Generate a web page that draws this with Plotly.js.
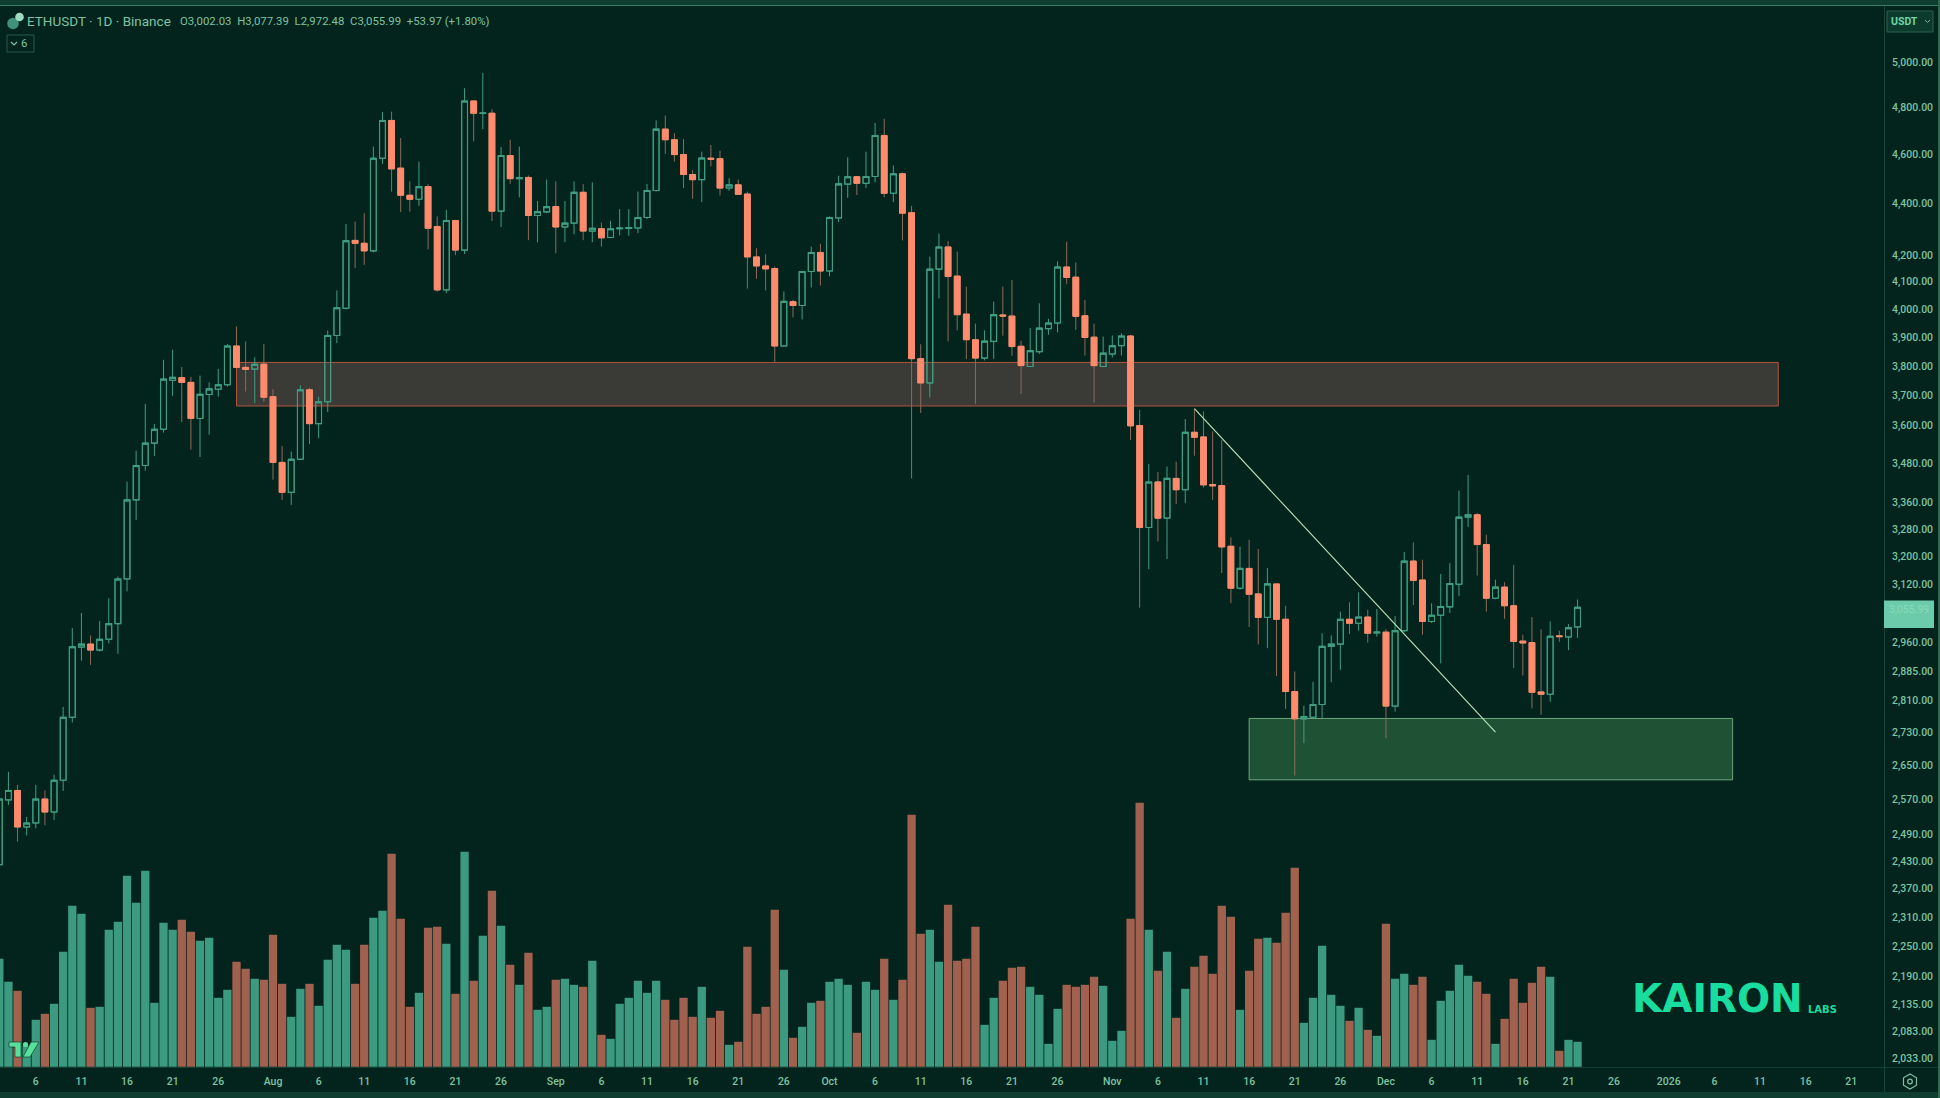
<!DOCTYPE html>
<html><head><meta charset="utf-8">
<script src="https://cdn.plot.ly/plotly-3.0.1.min.js"></script>
<style>html,body{margin:0;padding:0;background:#02241c;overflow:hidden}#c{width:1940px;height:1098px}</style>
</head><body><div id="c"></div>
<script>
// Daily candles, 2 Jul 2025 to 22 Dec 2025
const firstDay = '2025-07-02';
const open  = [2422,2568,2590,2506,2515,2570,2540,2614,2767,2948,2956,2940,2969,3011,3135,3367,3473,3544,3589,3751,3760,3744,3624,3703,3721,3736,3869,3795,3789,3806,3696,3483,3390,3493,3719,3607,3679,3906,4003,4256,4245,4216,4584,4743,4543,4433,4417,4468,4310,4070,4333,4219,4827,4773,4774,4370,4595,4500,4505,4353,4367,4388,4308,4323,4445,4292,4301,4267,4301,4302,4304,4345,4452,4706,4661,4599,4517,4496,4584,4582,4462,4475,4438,4193,4159,4149,3869,4027,4013,4138,4210,4140,4343,4478,4508,4481,4509,4679,4441,4520,4364,3825,3742,4147,4231,4121,3982,3891,3827,3885,3979,3975,3868,3798,3849,3930,3950,4155,4117,3976,3900,3798,3841,3870,3904,3601,3284,3422,3312,3433,3398,3579,3564,3414,3411,3229,3109,3165,3093,3028,3121,3023,2832,2763,2767,2799,2950,2956,3023,3012,3029,2986,2988,2795,2992,3186,3132,3017,3034,3057,3120,3315,3322,3234,3081,3112,3060,2964,2960,2831,2825,2978,2975,3002.03];
const high  = [2580,2634,2603,2529,2603,2590,2627,2793,2999,3040,2979,3018,3081,3142,3423,3520,3672,3606,3821,3856,3796,3762,3767,3744,3790,3876,3938,3885,3830,3876,3721,3535,3517,3734,3726,3696,3924,4068,4320,4329,4362,4632,4779,4781,4668,4489,4570,4478,4349,4375,4336,4883,4831,4951,4791,4630,4661,4632,4513,4410,4496,4489,4410,4489,4478,4485,4325,4332,4378,4378,4448,4478,4743,4764,4689,4664,4536,4611,4639,4615,4502,4496,4448,4226,4203,4157,4064,4033,4140,4232,4243,4349,4512,4588,4509,4611,4732,4750,4554,4525,4391,3875,4194,4283,4253,4213,4082,3948,3924,4027,4082,4107,3887,3932,4021,3965,4176,4251,4172,4033,3948,3902,3906,3914,3909,3652,3478,3453,3470,3485,3622,3656,3647,3582,3554,3255,3228,3248,3221,3166,3122,3060,2884,2796,2857,2985,2979,3044,3070,3097,3049,3051,2996,3032,3212,3240,3190,3067,3149,3180,3395,3444,3327,3263,3133,3126,3175,2981,3029,2996,3017,2992,3010,3077.39];
const low   = [2404,2556,2473,2487,2503,2510,2522,2589,2754,2912,2901,2936,2958,2930,3100,3307,3457,3503,3578,3699,3612,3523,3500,3571,3696,3730,3794,3713,3674,3679,3429,3367,3352,3491,3541,3560,3645,3879,3999,4151,4163,4210,4561,4448,4366,4368,4391,4222,4064,4058,4200,4204,4654,4706,4331,4308,4479,4425,4257,4249,4362,4207,4249,4280,4257,4249,4232,4265,4275,4274,4284,4339,4448,4602,4570,4462,4419,4406,4550,4432,4451,4435,4075,4111,4068,3812,3866,3970,3963,4079,4086,4120,4327,4423,4434,4462,4485,4425,4406,4256,3433,3642,3693,4039,3885,3924,3823,3672,3819,3824,3905,3835,3705,3796,3841,3908,3917,4091,3926,3836,3676,3796,3829,3836,3554,3055,3163,3243,3192,3354,3357,3504,3405,3367,3152,3067,3105,3002,2955,2945,2872,2788,2625,2703,2764,2763,2856,2888,2983,2992,2960,2976,2715,2781,2988,3062,2981,3013,2905,3040,3087,3286,3145,3044,3078,3024,2893,2873,2789,2773,2806,2962,2940,2972.48];
const close = [2570,2590,2506,2515,2570,2540,2614,2767,2949,2956,2940,2969,3011,3135,3367,3473,3544,3589,3755,3761,3744,3624,3704,3722,3736,3869,3795,3788,3806,3694,3483,3390,3493,3719,3607,3679,3906,4005,4255,4245,4216,4584,4743,4540,4433,4417,4468,4303,4070,4333,4219,4827,4774,4775,4370,4595,4500,4505,4353,4368,4388,4308,4323,4445,4292,4303,4266,4301,4304,4306,4345,4452,4706,4661,4599,4517,4496,4585,4580,4462,4475,4437,4193,4159,4148,3869,4028,4013,4138,4210,4140,4345,4479,4508,4481,4509,4679,4441,4520,4362,3825,3742,4147,4231,4120,3980,3891,3827,3886,3980,3975,3867,3801,3853,3932,3950,4155,4116,3974,3899,3801,3844,3870,3904,3600,3284,3422,3312,3433,3398,3579,3563,3413,3410,3227,3109,3165,3092,3028,3121,3023,2832,2763,2769,2799,2950,2956,3023,3012,3029,2985,2988,2795,2992,3186,3131,3017,3034,3058,3122,3315,3322,3234,3081,3112,3060,2963,2959,2830,2825,2977,2976,3000,3055.99];
// Traded volume per day, in the chart's arbitrary pane units
const volume = [108,85,76,21,47,53,63,115,161,153,59,60,137,145,191,164,196,64,144,137,147,135,126,129,69,77,105,98,88,87,132,83,50,78,83,61,107,122,117,83,122,149,156,213,148,60,74,139,140,123,73,215,86,131,176,141,102,82,114,57,60,87,88,82,80,106,32,28,63,69,86,74,86,67,47,69,50,80,49,56,22,25,120,53,60,157,97,29,40,64,66,85,88,82,34,85,77,108,67,87,252,133,137,105,162,106,108,140,42,69,86,99,100,80,72,23,58,82,80,82,90,81,26,36,148,264,137,96,115,49,78,100,111,93,161,150,57,96,128,129,124,154,199,44,69,121,72,61,46,59,37,31,143,88,93,82,90,27,66,76,102,91,85,73,23,48,88,64,84,100,90,16,27,25];
// Axis labels
const priceTicks = [5000,4800,4600,4400,4200,4100,4000,3900,3800,3700,3600,3480,3360,3280,3200,3120,2960,2885,2810,2730,2650,2570,2490,2430,2370,2310,2250,2190,2135,2083,2033];
const dateTicks = ['2025-07-06','2025-07-11','2025-07-16','2025-07-21','2025-07-26','2025-08-01','2025-08-06','2025-08-11','2025-08-16','2025-08-21','2025-08-26','2025-09-01','2025-09-06','2025-09-11','2025-09-16','2025-09-21','2025-09-26','2025-10-01','2025-10-06','2025-10-11','2025-10-16','2025-10-21','2025-10-26','2025-11-01','2025-11-06','2025-11-11','2025-11-16','2025-11-21','2025-11-26','2025-12-01','2025-12-06','2025-12-11','2025-12-16','2025-12-21','2025-12-26','2026-01-01','2026-01-06','2026-01-11','2026-01-16','2026-01-21'];
const dateLabels = ['6','11','16','21','26','Aug','6','11','16','21','26','Sep','6','11','16','21','26','Oct','6','11','16','21','26','Nov','6','11','16','21','26','Dec','6','11','16','21','26','2026','6','11','16','21'];
// Drawn zones and trend line
const resistanceDates = ['2025-07-28','2026-01-13'];
const resistancePrices = [3812,3665];
const supportDates = ['2025-11-16','2026-01-08'];
const supportPrices = [2764,2615];
const trendDates = ['2025-11-10','2025-12-13'];
const trendPrices = [3656,2730];
const lastPrice = 3055.99;

const W=1940,H=1098,PL=0,PR=1884,PT=6,PB=1068;
const BG='#02241c',UP='#3f9e82',DOWN='#ff8b6d',WICK='#8f6b5b',TXT='#7fc2a2',BAR='#0f3d30',EDGE='#2a6350';
const dates = open.map((_,i)=>{const d=new Date(Date.UTC(2025,6,2)+i*864e5);return d.toISOString().slice(0,10)});
const px=x=>(x-PL)/(PR-PL), py=y=>(PB-y)/(PB-PT);
const rectPx=(x0,y0,x1,y1,fill,line,lw)=>({type:'rect',xref:'paper',yref:'paper',x0:px(x0),x1:px(x1),y0:py(y0),y1:py(y1),fillcolor:fill,line:{color:line||fill,width:lw===undefined?0:lw},layer:'above'});
const pathPx=(pts,fill,line,lw,closed=true)=>({type:'path',xref:'paper',yref:'paper',path:pts.map((p,i)=>(i?'L':'M')+px(p[0])+','+py(p[1])).join(' ')+(closed?' Z':''),fillcolor:fill||'rgba(0,0,0,0)',line:{color:line||'rgba(0,0,0,0)',width:lw||0},layer:'above'});
const circlePx=(cx,cy,r,fill,line,lw)=>({type:'circle',xref:'paper',yref:'paper',x0:px(cx-r),x1:px(cx+r),y0:py(cy+r),y1:py(cy-r),fillcolor:fill||'rgba(0,0,0,0)',line:{color:line||'rgba(0,0,0,0)',width:lw||0},layer:'above'});
const textPx=(x,y,t,size,color,family,anchor)=>({xref:'paper',yref:'paper',x:px(x),y:py(y),text:t,showarrow:false,xanchor:anchor||'left',yanchor:'middle',font:{size,color,family:family||'Roboto, sans-serif'},borderpad:0,borderwidth:0});

const traces=[
 {type:'bar',x:dates,y:volume,yaxis:'y',xaxis:'x',
  marker:{color:close.map((c,i)=>c>=open[i]?'#3b9a7f':'#a2614f'),line:{width:0}},hoverinfo:'skip'},
 {type:'candlestick',x:dates,open,high,low,close,yaxis:'y2',xaxis:'x',whiskerwidth:0,
  increasing:{line:{color:UP,width:1},fillcolor:'rgba(0,0,0,0)'},
  decreasing:{line:{color:WICK,width:1},fillcolor:DOWN},hoverinfo:'skip'},
 {type:'candlestick',x:dates,open,close,
  high:open.map((o,i)=>Math.max(o,close[i])),low:open.map((o,i)=>Math.min(o,close[i])),
  yaxis:'y2',xaxis:'x',whiskerwidth:0,
  increasing:{line:{color:UP,width:1.1},fillcolor:'rgba(0,0,0,0)'},
  decreasing:{line:{color:DOWN,width:1},fillcolor:DOWN},hoverinfo:'skip'},
 {type:'scatter',mode:'lines',x:trendDates,y:trendPrices,yaxis:'y2',xaxis:'x',
  line:{color:'#bfe6bd',width:1.1},hoverinfo:'skip'}
];

const shapes=[
 {type:'rect',xref:'x',yref:'y2',x0:resistanceDates[0],x1:resistanceDates[1],y0:resistancePrices[0],y1:resistancePrices[1],fillcolor:'#3a3a37',line:{color:'#b4543f',width:1},layer:'below'},
 {type:'rect',xref:'x',yref:'y2',x0:supportDates[0],x1:supportDates[1],y0:supportPrices[0],y1:supportPrices[1],fillcolor:'#1f5235',line:{color:'#6ea67c',width:1},layer:'below'},
 // window chrome
 rectPx(0,0,1940,5,BAR),
 rectPx(0,5,1940,6,'#3a7a62'),
 rectPx(0,1092,1940,1098,BAR),
 rectPx(1938,0,1940,1098,'#2c6a52'),
 rectPx(1884,6,1885,1092,'#164536'),
 rectPx(0,1067,1938,1068,'#123f31'),
 // last price tag
 rectPx(1884,600.5,1934,628,'#6ccbaa'),
 // currency button
 {...rectPx(1887,11,1933,32,'#0c3a2d','#2c6350',1)},
 pathPx([[1925,20],[1927.5,22.5],[1930,20]],null,'#6fb597',1,false),
 // symbol icon
 circlePx(13,23.5,5.8,'#3f9277'),
 circlePx(19.5,17,4.3,'#9ddcc2'),
 // collapsed indicators button
 {...rectPx(7,35,34,52,'rgba(0,0,0,0)','#2a5a4a',1)},
 pathPx([[11,42],[14,45],[17,42]],null,TXT,1.2,false),
 // settings icon
 pathPx([[1910,1074],[1916.5,1077.8],[1916.5,1085.2],[1910,1089],[1903.5,1085.2],[1903.5,1077.8]],null,TXT,1.2),
 circlePx(1910,1081.5,2.3,null,TXT,1.2),
 // TradingView mark
 pathPx([[9,1042],[21,1042],[21,1057],[15,1057],[15,1047],[9,1047]],'#57e09c','#0b2e22',0.6),
 circlePx(25.5,1044.5,2.6,'#57e09c'),
 pathPx([[31,1042],[39,1042],[30,1057],[23,1057]],'#57e09c','#0b2e22',0.6)
];

const annotations=[
 textPx(27,21.5,'ETHUSDT · 1D · Binance',13.5,TXT),
 textPx(180,21,'O3,002.03&nbsp; H3,077.39&nbsp; L2,972.48&nbsp; C3,055.99&nbsp; +53.97 (+1.80%)',11.4,TXT),
 textPx(21,43.5,'6',11.5,TXT),
 textPx(1891,21.5,'<b>USDT</b>',10.5,'#6fd6a6'),
 textPx(1909,610,lastPrice.toLocaleString('en-US',{minimumFractionDigits:2}),10.5,'#86dcbc','Roboto, sans-serif','center'),
 textPx(1632,998.5,'<b>KAIRON</b>',39,'#19dc9f','DejaVu Sans, sans-serif'),
 textPx(1808,1009,'<b>LABS</b>',10,'#19dc9f','DejaVu Sans, sans-serif')
];

const layout={
 width:W,height:H,margin:{l:PL,r:W-PR,t:PT,b:H-PB,pad:0},
 paper_bgcolor:BG,plot_bgcolor:BG,showlegend:false,
 bargap:0.09,boxmode:'overlay',boxgap:0.36,boxgroupgap:0,
 font:{family:'Roboto, sans-serif',color:TXT},
 xaxis:{type:'date',range:['2025-07-02 01:49','2026-01-24 14:10'],rangeslider:{visible:false},
  showgrid:false,zeroline:false,showline:false,ticks:'',tickmode:'array',tickvals:dateTicks,ticktext:dateLabels,
  tickfont:{size:10.5,color:TXT,family:'Roboto, sans-serif',weight:500},ticklabelstandoff:5,fixedrange:true},
 yaxis:{domain:[0,1],range:[-1.2,PB-PT-1.2],visible:false,fixedrange:true},
 yaxis2:{type:'log',overlaying:'y',side:'right',range:[3.30446,3.72093],autorange:false,
  showgrid:false,zeroline:false,showline:false,ticks:'',tickmode:'array',tickvals:priceTicks,
  ticktext:priceTicks.map(v=>v.toLocaleString('en-US',{minimumFractionDigits:2})),
  tickfont:{size:10.5,color:TXT,family:'Roboto, sans-serif',weight:500},ticklabelstandoff:7,fixedrange:true},
 shapes,annotations
};
Plotly.newPlot('c',traces,layout,{staticPlot:true,displayModeBar:false});
</script></body></html>
